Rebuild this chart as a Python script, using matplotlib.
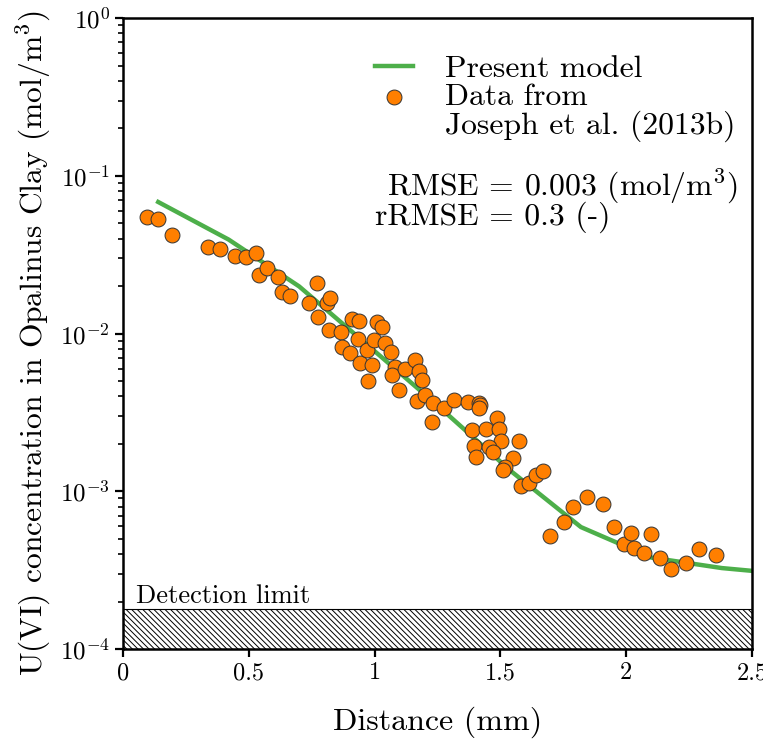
import numpy as np
import matplotlib
matplotlib.use("Agg")
import matplotlib.pyplot as plt
from matplotlib.ticker import LogLocator, FixedLocator, FixedFormatter

plt.rcParams['font.family'] = 'serif'
plt.rcParams['font.serif'] = ['cmr10']
plt.rcParams['mathtext.fontset'] = 'cm'
plt.rcParams['axes.formatter.use_mathtext'] = True
plt.rcParams['axes.unicode_minus'] = False
plt.rcParams['hatch.linewidth'] = 0.7

# --- model curve (Present model) ---
model_x = [0.14, 0.42, 0.70, 0.98, 1.26, 1.54, 1.82, 2.10, 2.38, 2.50]
model_c = [0.0682, 0.0394, 0.0199, 0.00824, 0.00339, 0.00135, 0.000593,
           0.00038, 0.000326, 0.000313]

# --- measured data (Joseph et al. 2013b) ---
data_x = [0.094, 0.139, 0.194, 0.337, 0.384, 0.446, 0.488, 0.530, 0.541, 0.571,
          0.615, 0.632, 0.664, 0.740, 0.770, 0.776, 0.810, 0.824, 0.819, 0.866,
          0.869, 0.902, 0.909, 0.939, 0.935, 0.942, 0.969, 0.988, 0.973, 1.008,
          1.028, 0.998, 1.041, 1.064, 1.081, 1.070, 1.121, 1.098, 1.161, 1.178,
          1.190, 1.167, 1.200, 1.233, 1.229, 1.276, 1.317, 1.370, 1.416, 1.419,
          1.416, 1.485, 1.386, 1.442, 1.496, 1.502, 1.395, 1.402, 1.456, 1.472,
          1.575, 1.549, 1.518, 1.512, 1.581, 1.615, 1.641, 1.671, 1.697, 1.754,
          1.787, 1.843, 1.907, 1.950, 1.991, 2.018, 2.032, 2.071, 2.097, 2.134,
          2.178, 2.238, 2.289, 2.356]
data_c = [0.0545, 0.0532, 0.0419, 0.0352, 0.0342, 0.0310, 0.0307, 0.0322, 0.0236, 0.0259,
          0.0227, 0.0183, 0.0173, 0.0157, 0.0208, 0.0128, 0.0157, 0.0167, 0.0106, 0.0102,
          0.00825, 0.00749, 0.0123, 0.0120, 0.00919, 0.00653, 0.00786, 0.00631, 0.00502, 0.0118,
          0.0110, 0.00910, 0.00867, 0.00767, 0.00610, 0.00546, 0.00596, 0.00438, 0.00679, 0.00581,
          0.00507, 0.00373, 0.00408, 0.00361, 0.00274, 0.00336, 0.00379, 0.00370, 0.00364, 0.00352,
          0.00336, 0.00290, 0.00245, 0.00248, 0.00247, 0.00208, 0.00194, 0.00166, 0.00190, 0.00178,
          0.00209, 0.00162, 0.00143, 0.00136, 0.00108, 0.00113, 0.00126, 0.00135, 0.000520, 0.000641,
          0.000791, 0.000923, 0.000829, 0.000596, 0.000461, 0.000546, 0.000435, 0.000408, 0.000538, 0.000376,
          0.000320, 0.000353, 0.000428, 0.000393]

detection_limit = 1.8e-4
x_ticks = [0, 0.5, 1, 1.5, 2, 2.5]
x_ticklabels = ["0", "0.5", "1", "1.5", "2", "2.5"]

fig = plt.figure(figsize=(7.63, 7.42), dpi=100)
ax = fig.add_axes([0.1612, 0.1253, 0.8244, 0.8504])

# detection limit band
ax.fill_between([0, 2.5], 1e-4, detection_limit, facecolor='white',
                edgecolor='black', hatch='\\\\\\\\\\\\', linewidth=0.8, zorder=1)
ax.text(0.05, detection_limit * 1.015, "Detection limit", fontsize=19,
        ha='left', va='bottom')

ax.plot(model_x, model_c, color='#4daf4a', lw=3.2, label="Present model", zorder=2)
ax.scatter(data_x, data_c, s=115, color='#ff7f00', edgecolor='#333333',
           linewidth=0.7, label="Data from", zorder=3)
ax.plot([], [], linestyle='none', label="Joseph et al. (2013b)")

ax.set_yscale('log')
ax.set_xlim(0, 2.5)
ax.set_ylim(1e-4, 1)
ax.xaxis.set_major_locator(FixedLocator(x_ticks))
ax.xaxis.set_major_formatter(FixedFormatter(x_ticklabels))
ax.yaxis.set_major_locator(LogLocator(base=10, numticks=10))
ax.yaxis.set_minor_locator(LogLocator(base=10, subs=np.arange(2, 10), numticks=20))

ax.tick_params(axis='both', which='major', direction='out', length=6, width=1.6,
               labelsize=17.5, top=False, right=False)
ax.tick_params(axis='y', which='major', labelsize=18)
ax.tick_params(axis='both', which='minor', direction='out', length=3.5, width=1.2,
               top=False, right=False)
for s in ax.spines.values():
    s.set_linewidth(1.8)

ax.set_xlabel("Distance (mm)", fontsize=23, labelpad=16)
ax.set_ylabel("U(VI) concentration in Opalinus Clay (mol/m$^3$)", fontsize=22.7)
ax.yaxis.set_label_coords(-0.113, 0.485)

leg = ax.legend(loc='upper left', bbox_to_anchor=(0.4006, 0.942), frameon=False,
                fontsize=22.8, handlelength=1.2, handletextpad=1.0,
                labelspacing=0.0, borderaxespad=0, borderpad=0)

ax.text(0.419, 0.720, "RMSE = 0.003 (mol/m$^3$)", transform=ax.transAxes,
        fontsize=22.8, ha='left', va='baseline')
ax.text(0.400, 0.673, "rRMSE = 0.3 (-)", transform=ax.transAxes,
        fontsize=22.8, ha='left', va='baseline')

fig.savefig("out.png", dpi=100)
